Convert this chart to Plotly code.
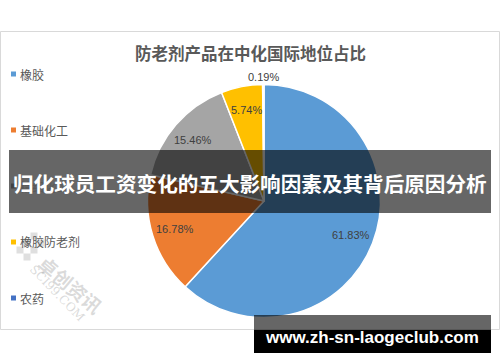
import math
import plotly.graph_objects as go

W, H = 500, 362

title_text = "防老剂产品在中化国际地位占比"
categories = ["橡胶", "基础化工", "精细化工", "橡胶防老剂", "农药"]
shares = [61.83, 16.78, 15.46, 5.74, 0.19]
colors = ["#5b9bd5", "#ed7d31", "#a5a5a5", "#ffc000", "#4472c4"]
label_inside = [True, True, True, True, False]
banner_text = "归化球员工资变化的五大影响因素及其背后原因分析"
site_text = "www.zh-sn-laogeclub.com"


def px(x):
    return x / W


def py(y):
    return 1 - y / H


cx, cy, R = 264, 201, 116.5

fig = go.Figure()
fig.add_trace(go.Pie(
    labels=categories,
    values=shares,
    sort=False,
    direction="clockwise",
    rotation=0,
    marker=dict(colors=colors, line=dict(color="white", width=1.5)),
    textinfo="none",
    showlegend=False,
    hoverinfo="label+percent",
    domain=dict(x=[px(cx - R), px(cx + R)], y=[py(cy + R), py(cy - R)]),
))

shapes = []
annotations = []

# data labels placed along each slice's mid-angle (derived from the shares)
total = sum(shares)
cum = 0.0
for v, inside in zip(shares, label_inside):
    theta = 2 * math.pi * (cum + v / 2) / total
    cum += v
    r = 0.8 * R if inside else R + 8
    lx = cx + r * math.sin(theta)
    ly = cy - r * math.cos(theta)
    annotations.append(dict(text=f"{v:.2f}%", xref="paper", yref="paper",
                            x=px(lx), y=py(ly), showarrow=False,
                            xanchor="center", yanchor="middle",
                            font=dict(family="Liberation Sans", size=11, color="#404040")))

# chart frame
shapes.append(dict(type="rect", xref="paper", yref="paper",
                   x0=px(0.5), x1=px(499.5), y0=py(329.5), y1=py(31.5),
                   line=dict(color="#d9d9d9", width=1), fillcolor="rgba(0,0,0,0)", layer="below"))

# title
annotations.append(dict(text="<b>" + title_text + "</b>", xref="paper", yref="paper",
                        x=px(250), y=py(53), showarrow=False, xanchor="center", yanchor="middle",
                        font=dict(family="Noto Sans CJK SC", size=16.5, color="#595959")))

# manual legend
leg_y0, leg_gap = 74, 56
for i, (cat, col) in enumerate(zip(categories, colors)):
    yy = leg_y0 + i * leg_gap
    shapes.append(dict(type="rect", xref="paper", yref="paper",
                       x0=px(11), x1=px(16), y0=py(yy + 2.5), y1=py(yy - 2.5),
                       line=dict(width=0), fillcolor=col))
    annotations.append(dict(text=cat, xref="paper", yref="paper", x=px(18), y=py(yy),
                            showarrow=False, xanchor="left", yanchor="middle",
                            font=dict(family="Noto Sans CJK SC", size=12, color="#595959")))

# watermark
wm_col = "rgba(150,150,150,0.35)"
annotations.append(dict(text="<b>卓创资讯</b>", xref="paper", yref="paper", x=px(71), y=py(284),
                        showarrow=False, textangle=40, xanchor="center", yanchor="middle",
                        font=dict(family="Noto Sans CJK SC", size=19, color=wm_col)))
annotations.append(dict(text="SCI99.COM", xref="paper", yref="paper", x=px(57), y=py(293),
                        showarrow=False, textangle=46, xanchor="center", yanchor="middle",
                        font=dict(family="DejaVu Serif", size=12, color=wm_col)))
for (sx, sy) in [(20, 250), (27, 243), (27, 257), (34, 250), (34, 236), (41, 243)]:
    shapes.append(dict(type="rect", xref="paper", yref="paper",
                       x0=px(sx - 3.5), x1=px(sx + 3.5), y0=py(sy + 3.5), y1=py(sy - 3.5),
                       line=dict(width=0), fillcolor="rgba(150,150,150,0.3)"))

# banner overlay
shapes.append(dict(type="rect", xref="paper", yref="paper",
                   x0=px(9), x1=px(491), y0=py(213), y1=py(150),
                   line=dict(width=0), fillcolor="rgba(0,0,0,0.6)", layer="above"))
annotations.append(dict(text="<b>" + banner_text + "</b>", xref="paper", yref="paper",
                        x=px(250), y=py(183), showarrow=False, xanchor="center", yanchor="middle",
                        font=dict(family="Noto Sans CJK SC", size=20.6, color="white")))

# site box
shapes.append(dict(type="rect", xref="paper", yref="paper",
                   x0=px(254), x1=px(491), y0=py(353), y1=py(315),
                   line=dict(width=0), fillcolor="rgba(0,0,0,0.6)", layer="above"))
shapes.append(dict(type="rect", xref="paper", yref="paper",
                   x0=px(254), x1=px(491), y0=py(353), y1=py(330),
                   line=dict(width=0), fillcolor="black", layer="above"))
annotations.append(dict(text="<b>" + site_text + "</b>", xref="paper", yref="paper",
                        x=px(372), y=py(337), showarrow=False, xanchor="center", yanchor="middle",
                        font=dict(family="Liberation Sans", size=17, color="white")))

fig.update_layout(
    width=W, height=H,
    margin=dict(l=0, r=0, t=0, b=0),
    paper_bgcolor="white", plot_bgcolor="white",
    shapes=shapes, annotations=annotations,
)

fig.write_html("out.html")
